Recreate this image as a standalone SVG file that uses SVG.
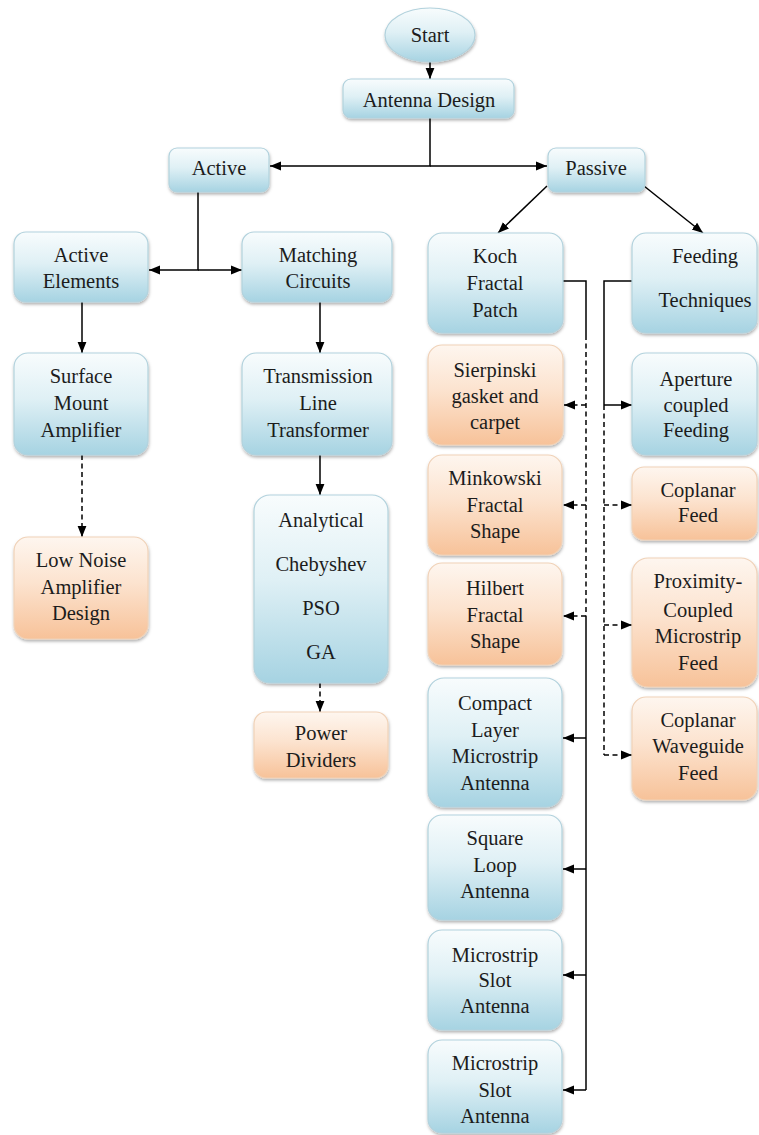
<svg xmlns="http://www.w3.org/2000/svg" width="759" height="1135" viewBox="0 0 759 1135" font-family="Liberation Serif, serif">
<defs>
<linearGradient id="gb" x1="0" y1="0" x2="0" y2="1">
<stop offset="0" stop-color="#f8fcfd"/>
<stop offset="0.45" stop-color="#dff0f5"/>
<stop offset="1" stop-color="#a6d3e2"/>
</linearGradient>
<linearGradient id="go" x1="0" y1="0" x2="0" y2="1">
<stop offset="0" stop-color="#fef6ef"/>
<stop offset="0.45" stop-color="#fce3cf"/>
<stop offset="1" stop-color="#f7c299"/>
</linearGradient>
<filter id="sh" x="-10%" y="-10%" width="125%" height="130%">
<feDropShadow dx="0.5" dy="2" stdDeviation="1.5" flood-color="#000" flood-opacity="0.3"/>
</filter>
<marker id="ah" viewBox="0 0 10 10" refX="10" refY="5" markerWidth="11" markerHeight="11" markerUnits="userSpaceOnUse" orient="auto">
<path d="M0,1 L10,5 L0,9 Z" fill="#000"/>
</marker>
<style>
.b{fill:url(#gb);stroke:#b2d2dd;stroke-width:1.2;filter:url(#sh)}
.o{fill:url(#go);stroke:#f0d2b8;stroke-width:1.2;filter:url(#sh)}
text{font-family:"Liberation Serif","Times New Roman",serif;font-size:20.5px;fill:#1c1c1c;text-anchor:middle}
.s{fill:none;stroke:#000;stroke-width:1.5}
.d{fill:none;stroke:#000;stroke-width:1.5;stroke-dasharray:5,3.5}
.a{marker-end:url(#ah)}
</style>
</defs>

<g id="connectors">
<path class="s a" d="M430,62 V79"/>
<path class="s a" d="M430,118 V166 H270"/>
<path class="s a" d="M430,166 H547"/>
<path class="s a" d="M198,192 V270 H149"/>
<path class="s a" d="M198,270 H242"/>
<path class="s a" d="M82,302 V353"/>
<path class="d a" d="M82,455 V537"/>
<path class="s a" d="M320,302 V353"/>
<path class="s a" d="M320,455 V495"/>
<path class="d a" d="M320,683 V712"/>
<path class="s a" d="M547,186 L498,233"/>
<path class="s a" d="M644,186 L703,233"/>
<path class="s" d="M563,281 H586 V335"/>
<path class="d" d="M586,335 V616"/>
<path class="s" d="M586,616 V1090"/>
<path class="d a" d="M586,405 H564"/>
<path class="d a" d="M586,505 H563"/>
<path class="d a" d="M586,616 H563"/>
<path class="s a" d="M586,738 H563"/>
<path class="s a" d="M586,869 H563"/>
<path class="s a" d="M586,975 H563"/>
<path class="s a" d="M586,1090 H563"/>
<path class="s" d="M632,281 H604 V405"/>
<path class="s a" d="M604,405 H632"/>
<path class="d" d="M604,405 V755"/>
<path class="d a" d="M604,505 H632"/>
<path class="d a" d="M604,625 H632"/>
<path class="d a" d="M604,755 H632"/>
</g>

<g id="start"><ellipse class="b" cx="430" cy="35" rx="45" ry="27"/><text x="430" y="42">Start</text></g>
<g id="antenna-design"><rect class="b" x="343" y="79" width="171" height="39" rx="8"/><text x="429" y="107">Antenna Design</text></g>
<g id="active"><rect class="b" x="169" y="148" width="100" height="44" rx="8"/><text x="219" y="175">Active</text></g>
<g id="passive"><rect class="b" x="548" y="148" width="97" height="44" rx="8"/><text x="596" y="175">Passive</text></g>

<g id="active-elements"><rect class="b" x="14" y="232" width="134" height="70" rx="12"/><text x="81" y="262">Active</text><text x="81" y="288">Elements</text></g>
<g id="matching-circuits"><rect class="b" x="242" y="232" width="150" height="70" rx="12"/><text x="318" y="262">Matching</text><text x="318" y="288">Circuits</text></g>
<g id="surface-mount"><rect class="b" x="14" y="353" width="134" height="102" rx="14"/><text x="81" y="383">Surface</text><text x="81" y="410">Mount</text><text x="81" y="437">Amplifier</text></g>
<g id="transmission-line"><rect class="b" x="242" y="353" width="150" height="102" rx="14"/><text x="318" y="383">Transmission</text><text x="318" y="410">Line</text><text x="318" y="437">Transformer</text></g>
<g id="low-noise"><rect class="o" x="14" y="537" width="134" height="102" rx="14"/><text x="81" y="567">Low Noise</text><text x="81" y="594">Amplifier</text><text x="81" y="620">Design</text></g>
<g id="methods"><rect class="b" x="254" y="495" width="134" height="188" rx="16"/><text x="321" y="527">Analytical</text><text x="321" y="571">Chebyshev</text><text x="321" y="615">PSO</text><text x="321" y="659">GA</text></g>
<g id="power-dividers"><rect class="o" x="254" y="712" width="134" height="66" rx="12"/><text x="321" y="740">Power</text><text x="321" y="767">Dividers</text></g>

<g id="koch"><rect class="b" x="428" y="233" width="135" height="100" rx="14"/><text x="495" y="263">Koch</text><text x="495" y="290">Fractal</text><text x="495" y="317">Patch</text></g>
<g id="feeding"><rect class="b" x="632" y="233" width="125" height="100" rx="14"/><text x="705" y="263">Feeding</text><text x="705" y="307">Techniques</text></g>
<g id="sierpinski"><rect class="o" x="428" y="345" width="135" height="100" rx="14"/><text x="495" y="377">Sierpinski</text><text x="495" y="403">gasket and</text><text x="495" y="429">carpet</text></g>
<g id="aperture"><rect class="b" x="632" y="353" width="125" height="102" rx="14"/><text x="696" y="386">Aperture</text><text x="696" y="412">coupled</text><text x="696" y="437">Feeding</text></g>
<g id="minkowski"><rect class="o" x="428" y="455" width="134" height="100" rx="14"/><text x="495" y="485">Minkowski</text><text x="495" y="512">Fractal</text><text x="495" y="538">Shape</text></g>
<g id="coplanar-feed"><rect class="o" x="632" y="467" width="125" height="73" rx="12"/><text x="698" y="497">Coplanar</text><text x="698" y="522">Feed</text></g>
<g id="hilbert"><rect class="o" x="428" y="563" width="134" height="102" rx="14"/><text x="495" y="595">Hilbert</text><text x="495" y="622">Fractal</text><text x="495" y="648">Shape</text></g>
<g id="proximity"><rect class="o" x="632" y="558" width="125" height="129" rx="16"/><text x="698" y="588">Proximity-</text><text x="698" y="617">Coupled</text><text x="698" y="643">Microstrip</text><text x="698" y="670">Feed</text></g>
<g id="compact-layer"><rect class="b" x="428" y="678" width="134" height="129" rx="16"/><text x="495" y="710">Compact</text><text x="495" y="737">Layer</text><text x="495" y="763">Microstrip</text><text x="495" y="790">Antenna</text></g>
<g id="cpw-feed"><rect class="o" x="632" y="697" width="125" height="103" rx="14"/><text x="698" y="727">Coplanar</text><text x="698" y="753">Waveguide</text><text x="698" y="780">Feed</text></g>
<g id="square-loop"><rect class="b" x="428" y="815" width="134" height="105" rx="14"/><text x="495" y="845">Square</text><text x="495" y="872">Loop</text><text x="495" y="898">Antenna</text></g>
<g id="microstrip-slot-1"><rect class="b" x="428" y="930" width="134" height="100" rx="14"/><text x="495" y="962">Microstrip</text><text x="495" y="987">Slot</text><text x="495" y="1013">Antenna</text></g>
<g id="microstrip-slot-2"><rect class="b" x="428" y="1040" width="134" height="93" rx="14"/><text x="495" y="1070">Microstrip</text><text x="495" y="1097">Slot</text><text x="495" y="1123">Antenna</text></g>
</svg>
